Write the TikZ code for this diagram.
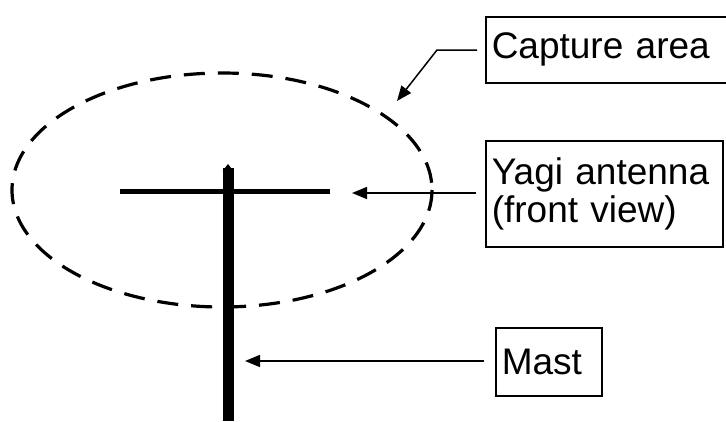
\documentclass[tikz,border=0pt]{standalone}
\usepackage{fontspec}
\setmainfont{Liberation Sans}
\usetikzlibrary{arrows.meta}
\begin{document}
\begin{tikzpicture}[x=1pt,y=-1pt,
  lbl/.style={draw=black,line width=1.5pt,rectangle,inner xsep=6pt,inner ysep=0pt,
    font=\fontsize{37}{38}\selectfont,align=left,anchor=north west},
  arr/.style={line width=1.5pt,-{Triangle[length=15pt,width=12pt]}},
  dashell/.style={line width=3.2pt,dash pattern=on 21pt off 13pt},
]
\useasboundingbox (0,0) rectangle (726,421);
% capture area ellipse
\draw[dashell] (222,190) ellipse [x radius=210, y radius=117];
% antenna
\draw[line width=5pt] (120,191) -- (330,191);
\coordinate (masttop) at (228,168);
\coordinate (mastbot) at (228,421);
\draw[line width=11pt] (masttop) -- (mastbot);
\fill (222.5,171) -- (228,164) -- (233.5,171) -- cycle;
% labels
\node[lbl,minimum width=245pt,minimum height=66pt,text width=233pt] (cap) at (485,16) {Capture area};
\node[lbl,minimum width=237pt,minimum height=106pt,text width=225pt] (yagi) at (485,140) {Yagi antenna\\(front view)};
\node[lbl,minimum width=106pt,minimum height=68pt,text width=94pt] (mast) at (495,327) {Mast};
% target points
\coordinate (capt) at (397,101);
\coordinate (yagit) at (352,193);
\coordinate (mastt) at (245,361);
% connectors
\draw[arr] ([xshift=-8pt]cap.west |- 0,50) -- (437,50) -- (capt);
\draw[arr] ([xshift=-9pt]yagi.west |- 0,193) -- (yagit);
\draw[arr] ([xshift=-11pt]mast.west |- 0,361) -- (mastt);
\end{tikzpicture}
\end{document}
